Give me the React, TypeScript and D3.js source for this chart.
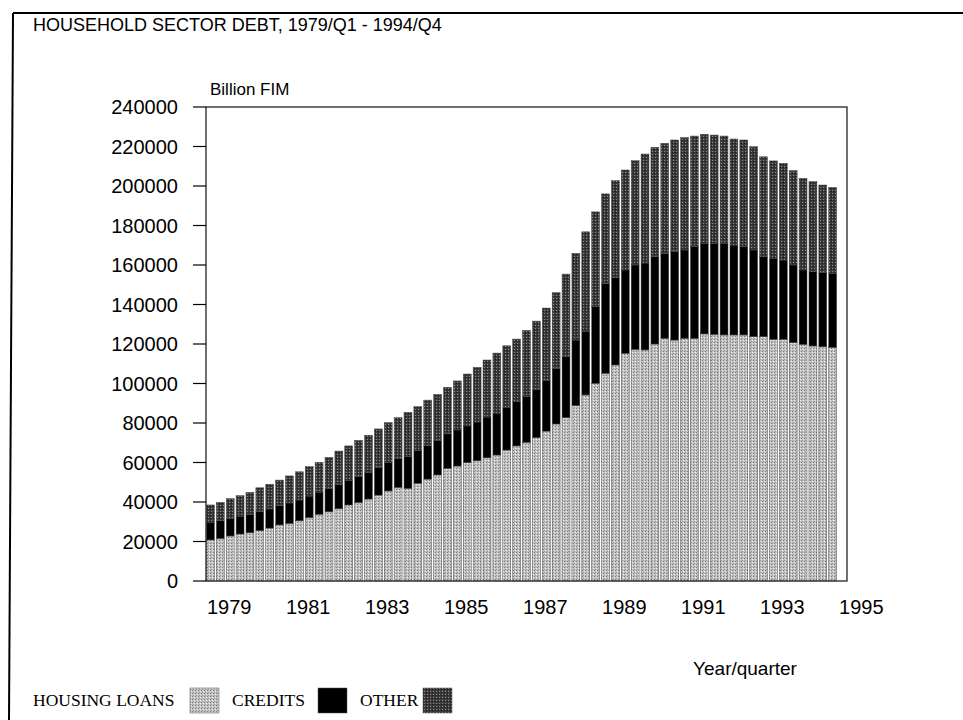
import React from "react";
import * as d3 from "d3";

const years = [1979, 1980, 1981, 1982, 1983, 1984, 1985, 1986, 1987, 1988, 1989, 1990, 1991, 1992, 1993, 1994];
const quarterNames = ["Q1", "Q2", "Q3", "Q4"];
const categories = years.flatMap((y) => quarterNames.map((q) => `${y}/${q}`));

const housingLoans = [
  20800, 21600, 22800, 23800, 24500, 25500, 26800, 28400,
  29200, 30500, 32100, 33800, 35100, 36600, 38500, 39800,
  41500, 43500, 45600, 47400, 46900, 49500, 51600, 53700,
  57000, 58200, 59900, 60900, 62400, 63800, 66300, 68400,
  70200, 72600, 75900, 79500, 82700, 88800, 94200, 100100,
  105200, 109400, 115300, 117300, 117000, 120000, 122900, 122000,
  122900, 122900, 125100, 124900, 124600, 124600, 124600, 123700,
  123700, 122400, 122400, 120700, 119800, 119000, 118600, 118300,
];
const credits = [
  8700, 8900, 9000, 9000, 9300, 9700, 9700, 9800,
  10300, 10500, 10900, 11200, 11700, 12200, 12500, 13200,
  13500, 14000, 14400, 14600, 16100, 16500, 16900, 17300,
  17500, 18300, 18600, 19600, 20600, 21200, 21700, 22600,
  23300, 24400, 25600, 28200, 30900, 33200, 32300, 38800,
  45500, 44100, 42200, 42700, 44000, 44200, 43000, 44800,
  44700, 46400, 45900, 46100, 46400, 45500, 44700, 43900,
  40500, 41000, 40100, 39300, 37700, 37600, 37500, 37500,
];
const other = [
  9000, 9300, 9900, 10400, 11100, 12000, 12500, 12900,
  13700, 14300, 14900, 15100, 15800, 17000, 17400, 18200,
  18800, 19500, 20200, 20700, 22400, 22300, 23100, 23500,
  23600, 24800, 26300, 27700, 28900, 30400, 31100, 31500,
  33400, 34600, 36700, 38300, 41800, 43900, 50300, 48000,
  45300, 49200, 50600, 52800, 55200, 55400, 55700, 56500,
  56900, 56000, 55200, 54800, 54300, 53700, 54000, 52300,
  50600, 49300, 49000, 47800, 46400, 45600, 44400, 43500,
];

const yTicks = [0, 20000, 40000, 60000, 80000, 100000, 120000, 140000, 160000, 180000, 200000, 220000, 240000];
const xTickYears = [1979, 1981, 1983, 1985, 1987, 1989, 1991, 1993, 1995];
const seriesKeys = ["housing", "credits", "other"];
const legendLabels = ["HOUSING LOANS", "CREDITS", "OTHER"];

const W = 963;
const H = 720;
const plot = { left: 206, right: 847, top: 107, bottom: 581 };
const sans = "'Liberation Sans', Arial, Helvetica, sans-serif";
const serif = "'Liberation Serif', 'Times New Roman', serif";

export default function App() {
  const rows = categories.map((c, i) => ({
    cat: c,
    housing: housingLoans[i],
    credits: credits[i],
    other: other[i],
  }));
  const stacked = d3.stack<any>().keys(seriesKeys)(rows);

  // one extra empty slot after 1994/Q4 (axis runs to 1995)
  const slots = d3.range(categories.length + 1);
  const x = d3
    .scaleBand<number>()
    .domain(slots)
    .range([plot.left, plot.right])
    .paddingInner(0.2)
    .paddingOuter(0.05);
  const y = d3.scaleLinear().domain([0, 240000]).range([plot.bottom, plot.top]);

  const fills: Record<string, string> = {
    housing: "url(#patHousing)",
    credits: "#000",
    other: "url(#patOther)",
  };

  const yearX = (yr: number) => (x(0) as number) + ((yr - 1979) * 4 + 2.3) * x.step();

  const legendY = 700;
  const legendItems = [
    { label: legendLabels[0], textX: 33, boxX: 190, key: "housing" },
    { label: legendLabels[1], textX: 232, boxX: 318, key: "credits" },
    { label: legendLabels[2], textX: 360, boxX: 423, key: "other" },
  ];

  return (
    <div style={{ position: "absolute", left: 0, top: 0 }}>
      <svg width={W} height={H} style={{ display: "block", background: "#fff" }}>
        <defs>
          <pattern id="patHousing" width="3" height="3" patternUnits="userSpaceOnUse">
            <rect width="3" height="3" fill="#c2c2c2" />
            <rect x="0" y="0" width="1" height="1" fill="#7a7a7a" />
            <rect x="2" y="1" width="1" height="1" fill="#eeeeee" />
            <rect x="1" y="2" width="1" height="1" fill="#9a9a9a" />
          </pattern>
          <pattern id="patOther" width="3" height="3" patternUnits="userSpaceOnUse">
            <rect width="3" height="3" fill="#3a3a3a" />
            <rect x="1" y="1" width="1" height="1" fill="#8c8c8c" />
            <rect x="0" y="2" width="1" height="1" fill="#151515" />
          </pattern>
        </defs>

        {/* outer page frame */}
        <line x1={13} y1={13} x2={W} y2={13} stroke="#000" strokeWidth={2} />
        <line x1={13} y1={13} x2={9} y2={H} stroke="#000" strokeWidth={2} />

        <text x={33} y={31} fontFamily={sans} fontSize={18} fill="#000">
          HOUSEHOLD SECTOR DEBT, 1979/Q1 - 1994/Q4
        </text>

        <text x={210} y={95} fontFamily={sans} fontSize={17} fill="#000">
          Billion FIM
        </text>

        {stacked.map((s) => (
          <g key={s.key}>
            {s.map((d, i) => (
              <rect
                key={i}
                x={x(i) as number}
                width={x.bandwidth()}
                y={y(d[1])}
                height={y(d[0]) - y(d[1])}
                fill={fills[s.key]}
                stroke="#444"
                strokeWidth={0.5}
              />
            ))}
          </g>
        ))}

        <rect
          x={plot.left}
          y={plot.top}
          width={plot.right - plot.left}
          height={plot.bottom - plot.top}
          fill="none"
          stroke="#222"
          strokeWidth={1.3}
        />

        {yTicks.map((t) => (
          <g key={t}>
            <line x1={plot.left - 13} x2={plot.left} y1={y(t)} y2={y(t)} stroke="#000" strokeWidth={1.2} />
            <text
              x={178}
              y={y(t)}
              dy="0.35em"
              textAnchor="end"
              fontFamily={sans}
              fontSize={20}
              fill="#000"
            >
              {t}
            </text>
          </g>
        ))}

        {xTickYears.map((yr) => (
          <text
            key={yr}
            x={yearX(yr)}
            y={614}
            textAnchor="middle"
            fontFamily={sans}
            fontSize={20}
            fill="#000"
          >
            {yr}
          </text>
        ))}

        <text x={745} y={675} textAnchor="middle" fontFamily={sans} fontSize={19} fill="#000">
          Year/quarter
        </text>

        {legendItems.map((it) => (
          <g key={it.key}>
            <text x={it.textX} y={legendY + 6} fontFamily={serif} fontSize={17.5} fill="#000">
              {it.label}
            </text>
            <rect
              x={it.boxX}
              y={legendY - 12}
              width={29}
              height={25}
              fill={fills[it.key]}
              stroke="#555"
              strokeWidth={0.5}
            />
          </g>
        ))}
      </svg>
    </div>
  );
}
